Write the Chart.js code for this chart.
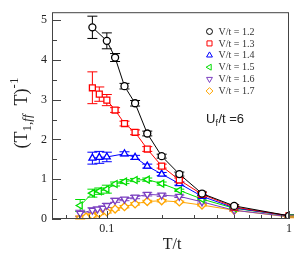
<!DOCTYPE html>
<html>
<head>
<meta charset="utf-8">
<script src="https://cdn.jsdelivr.net/npm/chart.js@4.4.0/dist/chart.umd.min.js"></script>
<style>
  html, body { margin: 0; padding: 0; background: #fff; }
  #wrap { width: 306px; height: 255px; }
</style>
</head>
<body>
<div id="wrap"><canvas id="c"></canvas></div>
<script>
// values: T/t on a log axis, (T1,ff T)^-1 with error bars
const labels = ['V/t = 1.2', 'V/t = 1.3', 'V/t = 1.4', 'V/t = 1.5', 'V/t = 1.6', 'V/t = 1.7'];

const t12 = [0.0833, 0.1, 0.111, 0.125, 0.1429, 0.1667, 0.2, 0.25, 0.333, 0.5, 1];
const v12 = [4.82, 4.48, 4.06, 3.34, 2.91, 2.15, 1.58, 1.13, 0.64, 0.33, 0.08];
const e12 = [0.28, 0.2, 0.1, 0.07, 0.07, 0.06, 0.05, 0.05, 0.04, 0.03, 0.02];

const t13 = [0.0833, 0.0909, 0.1, 0.111, 0.125, 0.1429, 0.1667, 0.2, 0.25, 0.333, 0.5, 1];
const v13 = [3.30, 3.14, 2.99, 2.74, 2.40, 2.18, 1.76, 1.33, 0.98, 0.62, 0.30, 0.08];
const e13 = [0.4, 0.18, 0.14, 0.06, 0.06, 0.06, 0.06, 0.05, 0.05, 0.04, 0.03, 0.02];

const t14 = [0.0833, 0.0909, 0.1, 0.125, 0.1429, 0.1667, 0.2, 0.25, 0.333, 0.5, 1];
const v14 = [1.53, 1.55, 1.56, 1.64, 1.55, 1.33, 1.13, 0.89, 0.57, 0.28, 0.08];
const e14 = [0.15, 0.15, 0.12, 0.05, 0.05, 0.05, 0.04, 0.04, 0.03, 0.02, 0.02];

const t15 = [0.0714, 0.0833, 0.0909, 0.1, 0.111, 0.125, 0.1429, 0.1667, 0.2, 0.25, 0.333, 0.5, 1];
const v15 = [0.34, 0.65, 0.70, 0.75, 0.88, 0.94, 0.98, 0.99, 0.89, 0.72, 0.50, 0.27, 0.08];
const e15 = [0.15, 0.1, 0.08, 0.1, 0.05, 0.05, 0.04, 0.04, 0.04, 0.03, 0.03, 0.02, 0.02];

const t16 = [0.0714, 0.0833, 0.0889, 0.0952, 0.1, 0.111, 0.125, 0.1429, 0.1667, 0.2, 0.25, 0.333, 0.5, 1];
const v16 = [0.14, 0.22, 0.25, 0.27, 0.34, 0.47, 0.50, 0.55, 0.62, 0.60, 0.57, 0.43, 0.22, 0.06];
const e16 = [0.08, 0.06, 0.05, 0.05, 0.05, 0.05, 0.04, 0.04, 0.04, 0.03, 0.03, 0.03, 0.02, 0.02];

const t17 = [0.0714, 0.0769, 0.0833, 0.0909, 0.1, 0.111, 0.125, 0.1429, 0.1667, 0.2, 0.25, 0.333, 0.5, 1];
const v17 = [0.02, 0.05, 0.09, 0.14, 0.18, 0.25, 0.31, 0.38, 0.44, 0.46, 0.43, 0.35, 0.22, 0.05];
const e17 = [0.06, 0.04, 0.04, 0.03, 0.03, 0.03, 0.03, 0.03, 0.03, 0.03, 0.02, 0.02, 0.02, 0.02];

const xs = [t12, t13, t14, t15, t16, t17];
const ys = [v12, v13, v14, v15, v16, v17];
const errs = [e12, e13, e14, e15, e16, e17];

const xTickLabels = [0.1, 1];
const xMinorTicks = [0.06, 0.07, 0.08, 0.09, 0.2, 0.3, 0.4, 0.5, 0.6, 0.7, 0.8, 0.9];
const yTickLabels = [0, 1, 2, 3, 4, 5];
const yMinorTicks = [0.5, 1.5, 2.5, 3.5, 4.5];

// looks
const colors = ['#000000', '#ff0000', '#0000ff', '#00dd00', '#7b3fc0', '#ffa500'];
const shapes = ['circle', 'rect', 'triangle', 'triangle', 'triangle', 'rectRot'];
const turns = [0, 0, 0, -90, 180, 0];
const sizes = [3.5, 4.2, 4, 4, 4, 4];
const serif = '"Liberation Serif", "DejaVu Serif", serif';

const datasets = labels.map((lab, i) => ({
  label: lab,
  data: xs[i].map((t, j) => ({ x: t, y: ys[i][j] })),
  borderColor: colors[i],
  backgroundColor: '#ffffff',
  borderWidth: 1,
  fill: false,
  tension: 0,
  pointStyle: shapes[i],
  pointRotation: turns[i],
  pointRadius: sizes[i],
  pointBorderWidth: 1.3,
  pointBackgroundColor: '#ffffff',
  pointBorderColor: colors[i]
}));

const decor = {
  id: 'decor',
  // error bars, under the lines and markers
  beforeDatasetsDraw(chart) {
    const { ctx, scales: { x, y } } = chart;
    ctx.save();
    ctx.lineWidth = 1;
    chart.data.datasets.forEach((ds, i) => {
      ctx.strokeStyle = colors[i];
      ds.data.forEach((p, j) => {
        const e = errs[i][j];
        const px = x.getPixelForValue(p.x);
        const top = y.getPixelForValue(p.y + e);
        const bot = y.getPixelForValue(Math.max(0, p.y - e));
        ctx.beginPath();
        ctx.moveTo(px, top); ctx.lineTo(px, bot);
        ctx.moveTo(px - 5, top); ctx.lineTo(px + 5, top);
        ctx.moveTo(px - 5, bot); ctx.lineTo(px + 5, bot);
        ctx.stroke();
      });
    });
    ctx.restore();
  },
  afterDraw(chart) {
    const { ctx, chartArea: a, scales: { x, y } } = chart;
    ctx.save();
    // frame
    ctx.strokeStyle = '#444';
    ctx.lineWidth = 1;
    ctx.strokeRect(a.left + 0.5, a.top + 0.5, a.right - a.left - 1, a.bottom - a.top - 1);
    // inward ticks
    ctx.beginPath();
    xTickLabels.forEach(v => { const px = Math.round(x.getPixelForValue(v)) + 0.5; ctx.moveTo(px, a.bottom); ctx.lineTo(px, a.bottom - 8); });
    xMinorTicks.forEach(v => { const px = Math.round(x.getPixelForValue(v)) + 0.5; ctx.moveTo(px, a.bottom); ctx.lineTo(px, a.bottom - 4); });
    yTickLabels.forEach(v => { const py = Math.round(y.getPixelForValue(v)) + 0.5; ctx.moveTo(a.left, py); ctx.lineTo(a.left + 9, py); });
    yMinorTicks.forEach(v => { const py = Math.round(y.getPixelForValue(v)) + 0.5; ctx.moveTo(a.left, py); ctx.lineTo(a.left + 5, py); });
    ctx.stroke();

    // legend
    ctx.font = '10px ' + serif;
    ctx.textBaseline = 'middle';
    chart.data.datasets.forEach((ds, i) => {
      const ly = 31.5 + i * 11.9;
      ctx.strokeStyle = colors[i];
      ctx.fillStyle = '#ffffff';
      Chart.helpers.drawPoint(ctx, { pointStyle: shapes[i], radius: sizes[i] * 0.85, rotation: turns[i], borderWidth: 1.5 }, 209.5, ly);
      ctx.fillStyle = '#333';
      ctx.fillText(ds.label, 218.5, ly + 0.5);
    });

    // U_f/t = 6
    ctx.fillStyle = '#222';
    ctx.textBaseline = 'alphabetic';
    ctx.font = '13px "Liberation Sans", Arial, sans-serif';
    let cx = 206;
    ctx.fillText('U', cx, 123); cx += ctx.measureText('U').width;
    ctx.font = '9px "Liberation Sans", Arial, sans-serif';
    ctx.fillText('f', cx, 126); cx += ctx.measureText('f').width + 0.5;
    ctx.font = '13px "Liberation Sans", Arial, sans-serif';
    ctx.fillText('/t =6', cx, 123);

    // x title
    ctx.font = '16px ' + serif;
    ctx.textAlign = 'center';
    ctx.textBaseline = 'middle';
    ctx.fillText('T/t', 172, 245);

    // y title, rotated
    ctx.textAlign = 'left';
    ctx.textBaseline = 'alphabetic';
    const parts = [
      { s: '(T', f: '18px ' + serif, dy: 0 },
      { s: '1,', f: '13px ' + serif, dy: 4 },
      { s: 'ff', f: 'italic 13px ' + serif, dy: 4 },
      { s: '  T)', f: '18px ' + serif, dy: 0 },
      { s: '-1', f: '13px ' + serif, dy: -9 }
    ];
    let total = 0;
    parts.forEach(p => { ctx.font = p.f; p.w = ctx.measureText(p.s).width; total += p.w; });
    ctx.translate(27, 113 + total / 2);
    ctx.rotate(-Math.PI / 2);
    let tx = 0;
    parts.forEach(p => { ctx.font = p.f; ctx.fillText(p.s, tx, p.dy); tx += p.w; });
    ctx.restore();
  }
};

new Chart(document.getElementById('c'), {
  type: 'line',
  data: { datasets },
  options: {
    responsive: true,
    maintainAspectRatio: false,
    animation: false,
    layout: { padding: { top: 12, right: 17, left: 0, bottom: 0 } },
    plugins: { legend: { display: false }, tooltip: { enabled: false } },
    scales: {
      x: {
        type: 'logarithmic',
        min: 0.05,
        max: 1,
        grid: { display: false, drawTicks: false },
        border: { display: false },
        afterBuildTicks: s => { s.ticks = xTickLabels.map(v => ({ value: v })); },
        afterFit: s => { s.height = 36; },
        ticks: {
          autoSkip: false,
          maxRotation: 0,
          padding: 3,
          color: '#222',
          font: { family: serif, size: 12 },
          callback: v => String(v)
        }
      },
      y: {
        min: 0,
        max: 5.2,
        grid: { display: false, drawTicks: false },
        border: { display: false },
        afterFit: s => { s.width = 52; },
        ticks: {
          stepSize: 1,
          includeBounds: false,
          padding: 5,
          color: '#222',
          font: { family: serif, size: 12 }
        }
      }
    }
  },
  plugins: [decor]
});
</script>
</body>
</html>
